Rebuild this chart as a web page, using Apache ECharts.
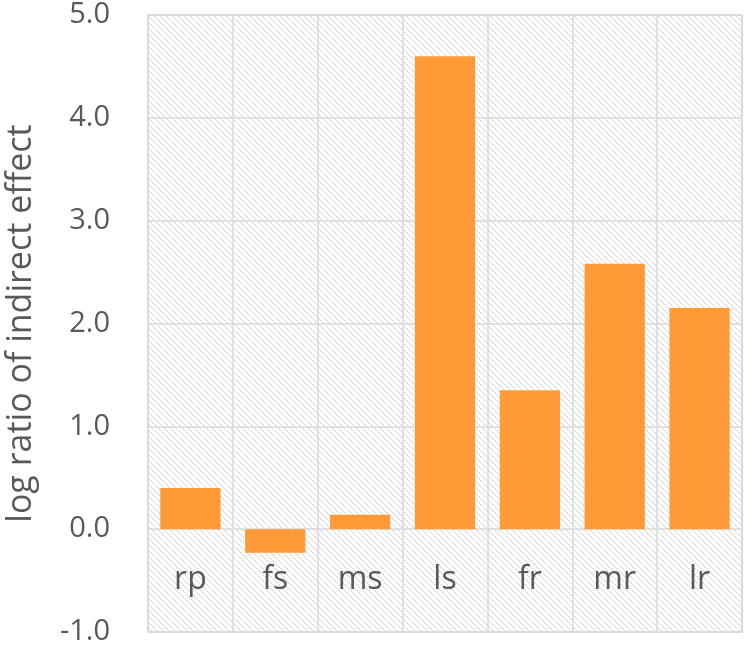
<!DOCTYPE html>
<html>
<head>
<meta charset="utf-8">
<script src="https://cdn.jsdelivr.net/npm/echarts@6/dist/echarts.min.js"></script>
<style>
  html, body { margin: 0; padding: 0; background: #fff; }
  #chart { width: 747px; height: 658px; }
</style>
</head>
<body>
<div id="chart"></div>
<script>
// data
var categories = ['rp', 'fs', 'ms', 'ls', 'fr', 'mr', 'lr']
var ratioValues = [0.40, -0.23, 0.14, 4.60, 1.35, 2.58, 2.15]
var yTicks = { min: -1, max: 5, step: 1 }

// hatched background tile, like the excel pattern fill
function makeHatch() {
  var c = document.createElement('canvas')
  c.width = 6
  c.height = 6
  var ctx = c.getContext('2d')
  ctx.fillStyle = '#ffffff'
  ctx.fillRect(0, 0, 6, 6)
  ctx.fillStyle = '#e0e0e0'
  for (var i = 0; i < 6; i++) {
    ctx.fillRect(i, i, 1, 1)
    if (i % 2 === 0) ctx.fillRect((i + 1) % 6, i, 1, 1)
  }
  return c
}

var chart = echarts.init(document.getElementById('chart'))
var font = 'Open Sans, Liberation Sans, sans-serif'
var plotTop = 15, plotBottom = 26, plotH = 658 - plotTop - plotBottom
// distance from the bottom edge of the plot up to the zero line
var zeroOffset = plotH * (0 - yTicks.min) / (yTicks.max - yTicks.min)

var option = {
  animation: false,
  grid: {
    left: 148, right: 5, top: plotTop, bottom: plotBottom,
    outerBoundsMode: 'none',
    show: true,
    backgroundColor: { image: makeHatch(), repeat: 'repeat' },
    borderColor: '#d9d9d9',
    borderWidth: 1.5
  },
  xAxis: {
    type: 'category',
    data: categories,
    position: 'bottom',
    offset: -zeroOffset,
    axisLine: { show: false, onZero: false },
    axisTick: { show: false },
    axisLabel: { color: '#595959', fontSize: 32, fontFamily: font, margin: 35 },
    splitLine: { show: true, interval: 0, lineStyle: { color: '#d9d9d9', width: 1.5 } }
  },
  yAxis: {
    type: 'value',
    min: yTicks.min,
    max: yTicks.max,
    interval: yTicks.step,
    name: 'log ratio of indirect effect',
    nameLocation: 'middle',
    nameGap: 110,
    nameTextStyle: { color: '#595959', fontSize: 34, fontFamily: font },
    axisLine: { show: false },
    axisTick: { show: false },
    axisLabel: {
      color: '#595959', fontSize: 29, fontFamily: font, margin: 38,
      formatter: function (v) { return v.toFixed(1) }
    },
    splitLine: { show: true, lineStyle: { color: '#d9d9d9', width: 1.5 } }
  },
  series: [{
    type: 'bar',
    data: ratioValues,
    barCategoryGap: '29%',
    itemStyle: { color: '#ff9a36' }
  }]
}
chart.setOption(option)
</script>
</body>
</html>
